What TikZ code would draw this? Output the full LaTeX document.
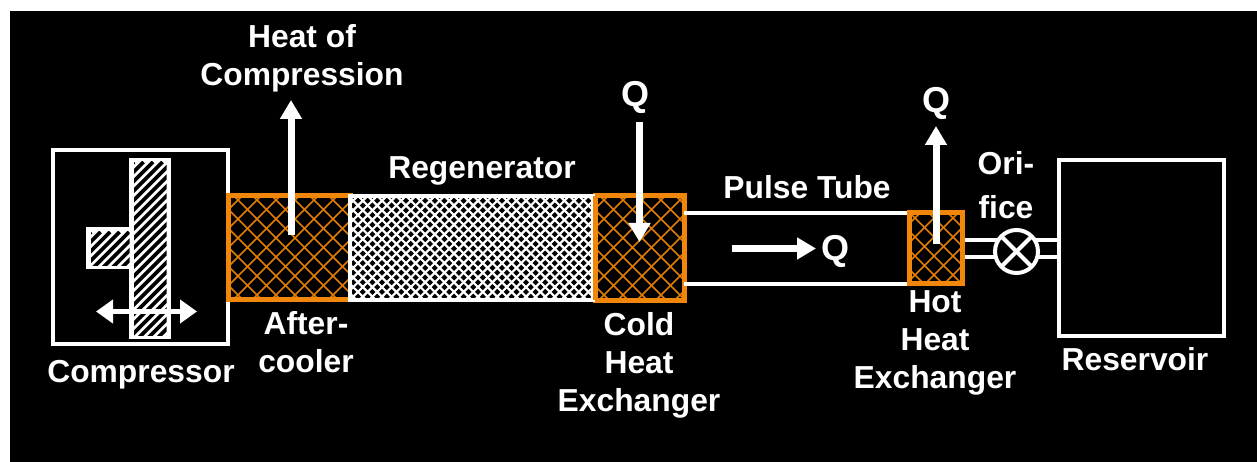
\documentclass[tikz,border=0pt]{standalone}
\usepackage{fontspec}
\setmainfont{Liberation Sans}
\usetikzlibrary{arrows.meta}
\definecolor{hxorange}{RGB}{240,135,10}
\definecolor{hxline}{RGB}{225,125,5}
\tikzset{
 x=1pt,y=-1pt,
 lbl/.style={text=white,font=\fontsize{31.8}{38}\selectfont\bfseries,align=center,inner sep=0pt},
 qlbl/.style={text=white,font=\fontsize{36}{38}\selectfont\bfseries,align=center,inner sep=0pt},
 wbox/.style={draw=white,line width=4pt,inner sep=0pt,outer sep=0pt,anchor=north west},
 hxbox/.style={draw=hxorange,line width=5pt,inner sep=0pt,outer sep=0pt,anchor=north west},
 wline/.style={draw=white,line width=4pt},
 warrow/.style={draw=white,line width=7pt,-{Triangle[length=19pt,width=21pt,sep=0pt]}},
 orangehatch/.style={draw=hxline,line width=1.7pt},
 regenhatch/.style={draw=white,line width=2.2pt},
}
% x0 y0 x1 y1 period style basex basey: lines through (basex+k*period, basey)
\newcommand{\xhatch}[8]{%
 \begin{scope}
 \clip (#1,#2) rectangle (#3,#4);
 \foreach \k in {-40,...,40}{
  \draw[#6] ({#7+\k*#5-200},{#8-200}) -- ({#7+\k*#5+200},{#8+200});
  \draw[#6] ({#7+\k*#5+200},{#8-200}) -- ({#7+\k*#5-200},{#8+200});
 }
 \end{scope}}
\newcommand{\shatch}[5]{%
 \begin{scope}
 \clip (#1,#2) rectangle (#3,#4);
 \foreach \k in {0,...,30}{
  \draw[black,line width=3.6pt] ({#1+\k*#5},#2) -- ++(-200,200);
 }
 \end{scope}}
\begin{document}
\begin{tikzpicture}
\useasboundingbox (0,0) rectangle (1257,462);
\fill[white] (0,0) rectangle (1257,462);
\fill[black] (10,11) rectangle (1257,462);

% compressor
\node[wbox,minimum width=175.5pt,minimum height=193.5pt] (comp) at (52.5,150.5) {};
\fill[white] (86,227) rectangle (132,269);
\fill[white] (129,158) rectangle (171,339);
\shatch{91}{232}{129.5}{265}{9.5}
\shatch{134}{162}{166.5}{335}{9.5}
\coordinate (pl) at (96,311.5);
\coordinate (pr) at (197,311.5);
\draw[draw=white,line width=5pt,{Triangle[length=17pt,width=23pt,sep=0pt]}-{Triangle[length=17pt,width=23pt,sep=0pt]}] (pl) -- (pr);

% aftercooler
\node[hxbox,minimum width=122pt,minimum height=103.5pt] (after) at (228,196) {};
\xhatch{230}{198}{348}{298}{19}{orangehatch}{238}{200}
\draw[hxorange,line width=5pt] (after.north west) -- (after.north east) (after.south west) -- (after.south east) (after.north west) -- (after.south west);

% cold HX
\node[hxbox,minimum width=89pt,minimum height=104pt] (cold) at (595,196) {};
\xhatch{597}{198}{682}{298}{19}{orangehatch}{604}{200}
\draw[hxorange,line width=5pt] (cold.north west) rectangle (cold.south east);

% regenerator
\fill[black] (350,196) rectangle (594,299);
\xhatch{350}{196}{594}{299}{9.6}{regenhatch}{362.8}{200.7}
\node[wbox,minimum width=243pt,minimum height=103.5pt] (regen) at (350,196) {};
\draw[hxorange,line width=5pt] (cold.north west) -- (cold.south west);

% pulse tube
\coordinate (ptu) at (908,213);
\coordinate (ptl) at (908,283.5);
\draw[wline] (cold.east |- ptu) -- (ptu);
\draw[wline] (cold.east |- ptl) -- (ptl);

% hot HX
\node[hxbox,minimum width=53pt,minimum height=70.5pt] (hot) at (909.5,213) {};
\xhatch{911}{215}{960}{282}{19}{orangehatch}{915}{218}
\draw[hxorange,line width=5pt] (hot.north west) rectangle (hot.south east);

% orifice
\node[draw=white,line width=4pt,circle,minimum size=43pt,inner sep=0pt,outer sep=0pt] (ori) at (1016.5,251.5) {};
\draw[white,line width=4pt] (ori.north west) -- (ori.south east);
\draw[white,line width=4pt] (ori.north east) -- (ori.south west);

% reservoir
\node[wbox,minimum width=165.5pt,minimum height=175.5pt] (res) at (1058.5,160) {};

% pipes
\coordinate (pa1) at (965,240); \coordinate (pa2) at (965,256.5);
\coordinate (pb1) at (1058,240); \coordinate (pb2) at (1058,256.5);
\draw[wline] (pa1) -- (997,240);
\draw[wline] (pa2) -- (995,256.5);
\draw[wline] (1036,240) -- (pb1);
\draw[wline] (1038,256.5) -- (pb2);

% arrows
\coordinate (a1s) at (291,235); \coordinate (a1e) at (291,100);
\draw[warrow] (a1s) -- (a1e);
\coordinate (a2s) at (639.5,122); \coordinate (a2e) at (639.5,242);
\draw[warrow] (a2s) -- (a2e);
\coordinate (a3s) at (732,248.5); \coordinate (a3e) at (816,248.5);
\draw[warrow] (a3s) -- (a3e);
\coordinate (a4s) at (936,244); \coordinate (a4e) at (936,126);
\draw[warrow] (a4s) -- (a4e);

% labels
\node[lbl] (t1) at (302,58.5) {Heat of\\Compression};
\node[lbl] (t2) at (482,170.5) {Regenerator};
\node[qlbl] (t3) at (635,97) {Q};
\node[lbl] (t4) at (807,187) {Pulse Tube};
\node[qlbl] (t5) at (936,103) {Q};
\node[lbl] (t6) at (1006,185) {Ori-\\[6pt]fice};
\node[qlbl] (t7) at (835,251) {Q};
\node[lbl] (t8) at (141,375) {Compressor};
\node[lbl] (t9) at (306,342) {After-\\cooler};
\node[lbl] (t10) at (639,365) {Cold\\Heat\\Exchanger};
\node[lbl] (t11) at (935,343) {Hot\\Heat\\Exchanger};
\node[lbl] (t12) at (1135,359) {Reservoir};
\end{tikzpicture}
\end{document}
